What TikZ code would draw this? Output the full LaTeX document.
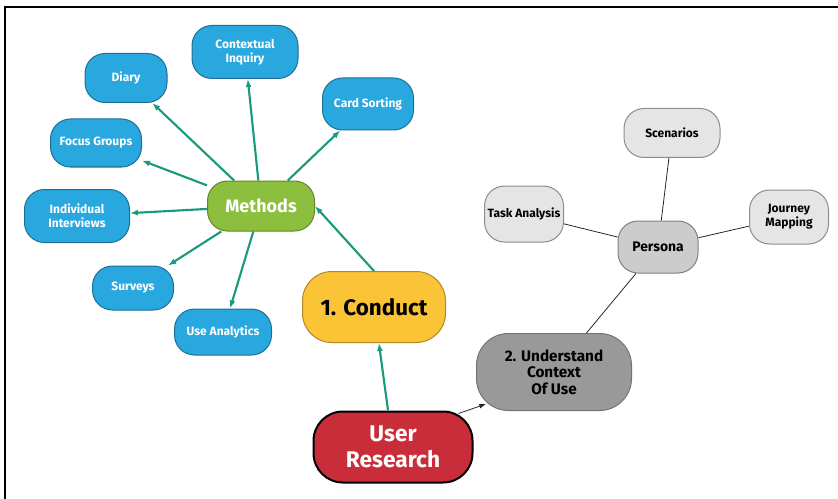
\documentclass[tikz,border=0pt]{standalone}
\usepackage{fontspec}
\setmainfont{Fira Sans}
\usetikzlibrary{arrows.meta}

\definecolor{methodblue}{RGB}{41,168,224}
\definecolor{methodblueline}{RGB}{30,110,150}
\definecolor{methodgreen}{RGB}{141,191,62}
\definecolor{conductyellow}{RGB}{251,195,54}
\definecolor{researchred}{RGB}{201,45,57}
\definecolor{contextgray}{RGB}{153,153,153}
\definecolor{personagray}{RGB}{204,204,204}
\definecolor{lightgray}{RGB}{229,229,229}
\definecolor{arrowteal}{RGB}{26,153,124}

\tikzset{every picture/.style={line width=0.75pt}}
\tikzset{
  pill/.style={rounded corners=15, align=center, inner sep=0.75pt, font=\bfseries},
  methodpill/.style={pill, fill=methodblue, draw=methodblueline, text=white, font=\bfseries\fontsize{9}{10.5}\selectfont},
  personapill/.style={pill, fill=lightgray, draw=black!45, text=black, font=\bfseries\fontsize{9}{10.5}\selectfont},
  tealarrow/.style={draw=arrowteal, line width=1.6pt, -{Latex[length=6pt,width=4.5pt]}},
  thinline/.style={draw=black!85, line width=0.6pt}
}

\begin{document}
\begin{tikzpicture}[x=0.75pt,y=0.75pt,yscale=-1,xscale=1]
\useasboundingbox (0,0) rectangle (838,499);

%Frame
\draw [line width=2.2pt]  (5,499) -- (5,7) -- (838,7) ;

%Shape: Rounded Rect (methods)
\node [methodpill, minimum width=79.5, minimum height=39.75] (inquiry) at (245,52) {Contextual\\Inquiry};
\node [methodpill, minimum width=61.5, minimum height=36.75] (diary) at (126,78) {Diary};
\node [methodpill, minimum width=68.25, minimum height=39] (cardsort) at (368,104) {Card Sorting};
\node [methodpill, minimum width=68.25, minimum height=36] (focus) at (96,143) {Focus Groups};
\node [methodpill, minimum width=78.75, minimum height=39.75] (interviews) at (77,216) {Individual\\Interviews};
\node [methodpill, minimum width=60.75, minimum height=33] (surveys) at (133,288) {Surveys};
\node [methodpill, minimum width=72.75, minimum height=34.5] (analytics) at (223,332) {Use Analytics};

%Shape: Rounded Rect (hubs)
\node [pill, fill=methodgreen, draw=methodgreen!70!black, text=white, minimum width=80.25, minimum height=37.5, font=\bfseries\fontsize{13.5}{15}\selectfont] (methods) at (261,206) {Methods};
\node [pill, fill=conductyellow, draw=conductyellow!70!black, text=black, minimum width=107.25, minimum height=53.25, rounded corners=22, font=\bfseries\fontsize{16.8}{19}\selectfont] (conduct) at (374,307) {1. Conduct};
\node [pill, fill=researchred, draw=black, line width=1.5pt, text=white, minimum width=119.25, minimum height=53.25, rounded corners=22, font=\bfseries\fontsize{17}{19}\selectfont] (research) at (393,447) {User\\Research};
\node [pill, fill=contextgray, draw=black!55, text=black, minimum width=116.25, minimum height=57.75, rounded corners=24, font=\bfseries\fontsize{11.5}{12.5}\selectfont] (context) at (554,372) {2. Understand\\Context\\Of Use};

%Shape: Rounded Rect (persona)
\node [pill, fill=personagray, draw=black!50, text=black, minimum width=60, minimum height=39, font=\bfseries\fontsize{10.4}{12}\selectfont] (persona) at (658,247) {Persona};
\node [personapill, minimum width=72, minimum height=36.75] (scenarios) at (672,133) {Scenarios};
\node [personapill, minimum width=59.25, minimum height=42] (task) at (524,214) {Task Analysis};
\node [personapill, minimum width=59.25, minimum height=40.5] (journey) at (789,217) {Journey\\Mapping};

%Straight Lines
\draw [tealarrow] (methods) -- (inquiry);
\draw [tealarrow] (methods) -- (diary);
\draw [tealarrow] (methods) -- (cardsort);
\draw [tealarrow] (methods) -- (focus);
\draw [tealarrow] (methods) -- (interviews);
\draw [tealarrow] (methods) -- (surveys);
\draw [tealarrow] (methods) -- (analytics);
\draw [tealarrow] (conduct.north) -- (methods.east);
\draw [tealarrow] (research) -- (conduct);
\draw [thinline, -{Latex[length=5pt,width=3.5pt]}] ([shift={(-15,3)}]research.north east) -- ([shift={(10,-7)}]context.south west);

%Straight Lines (persona)
\draw [thinline] (context) -- (persona);
\draw [thinline] (persona) -- (scenarios);
\draw [thinline] (persona) -- (task);
\draw [thinline] (persona) -- (journey);

\end{tikzpicture}
\end{document}
